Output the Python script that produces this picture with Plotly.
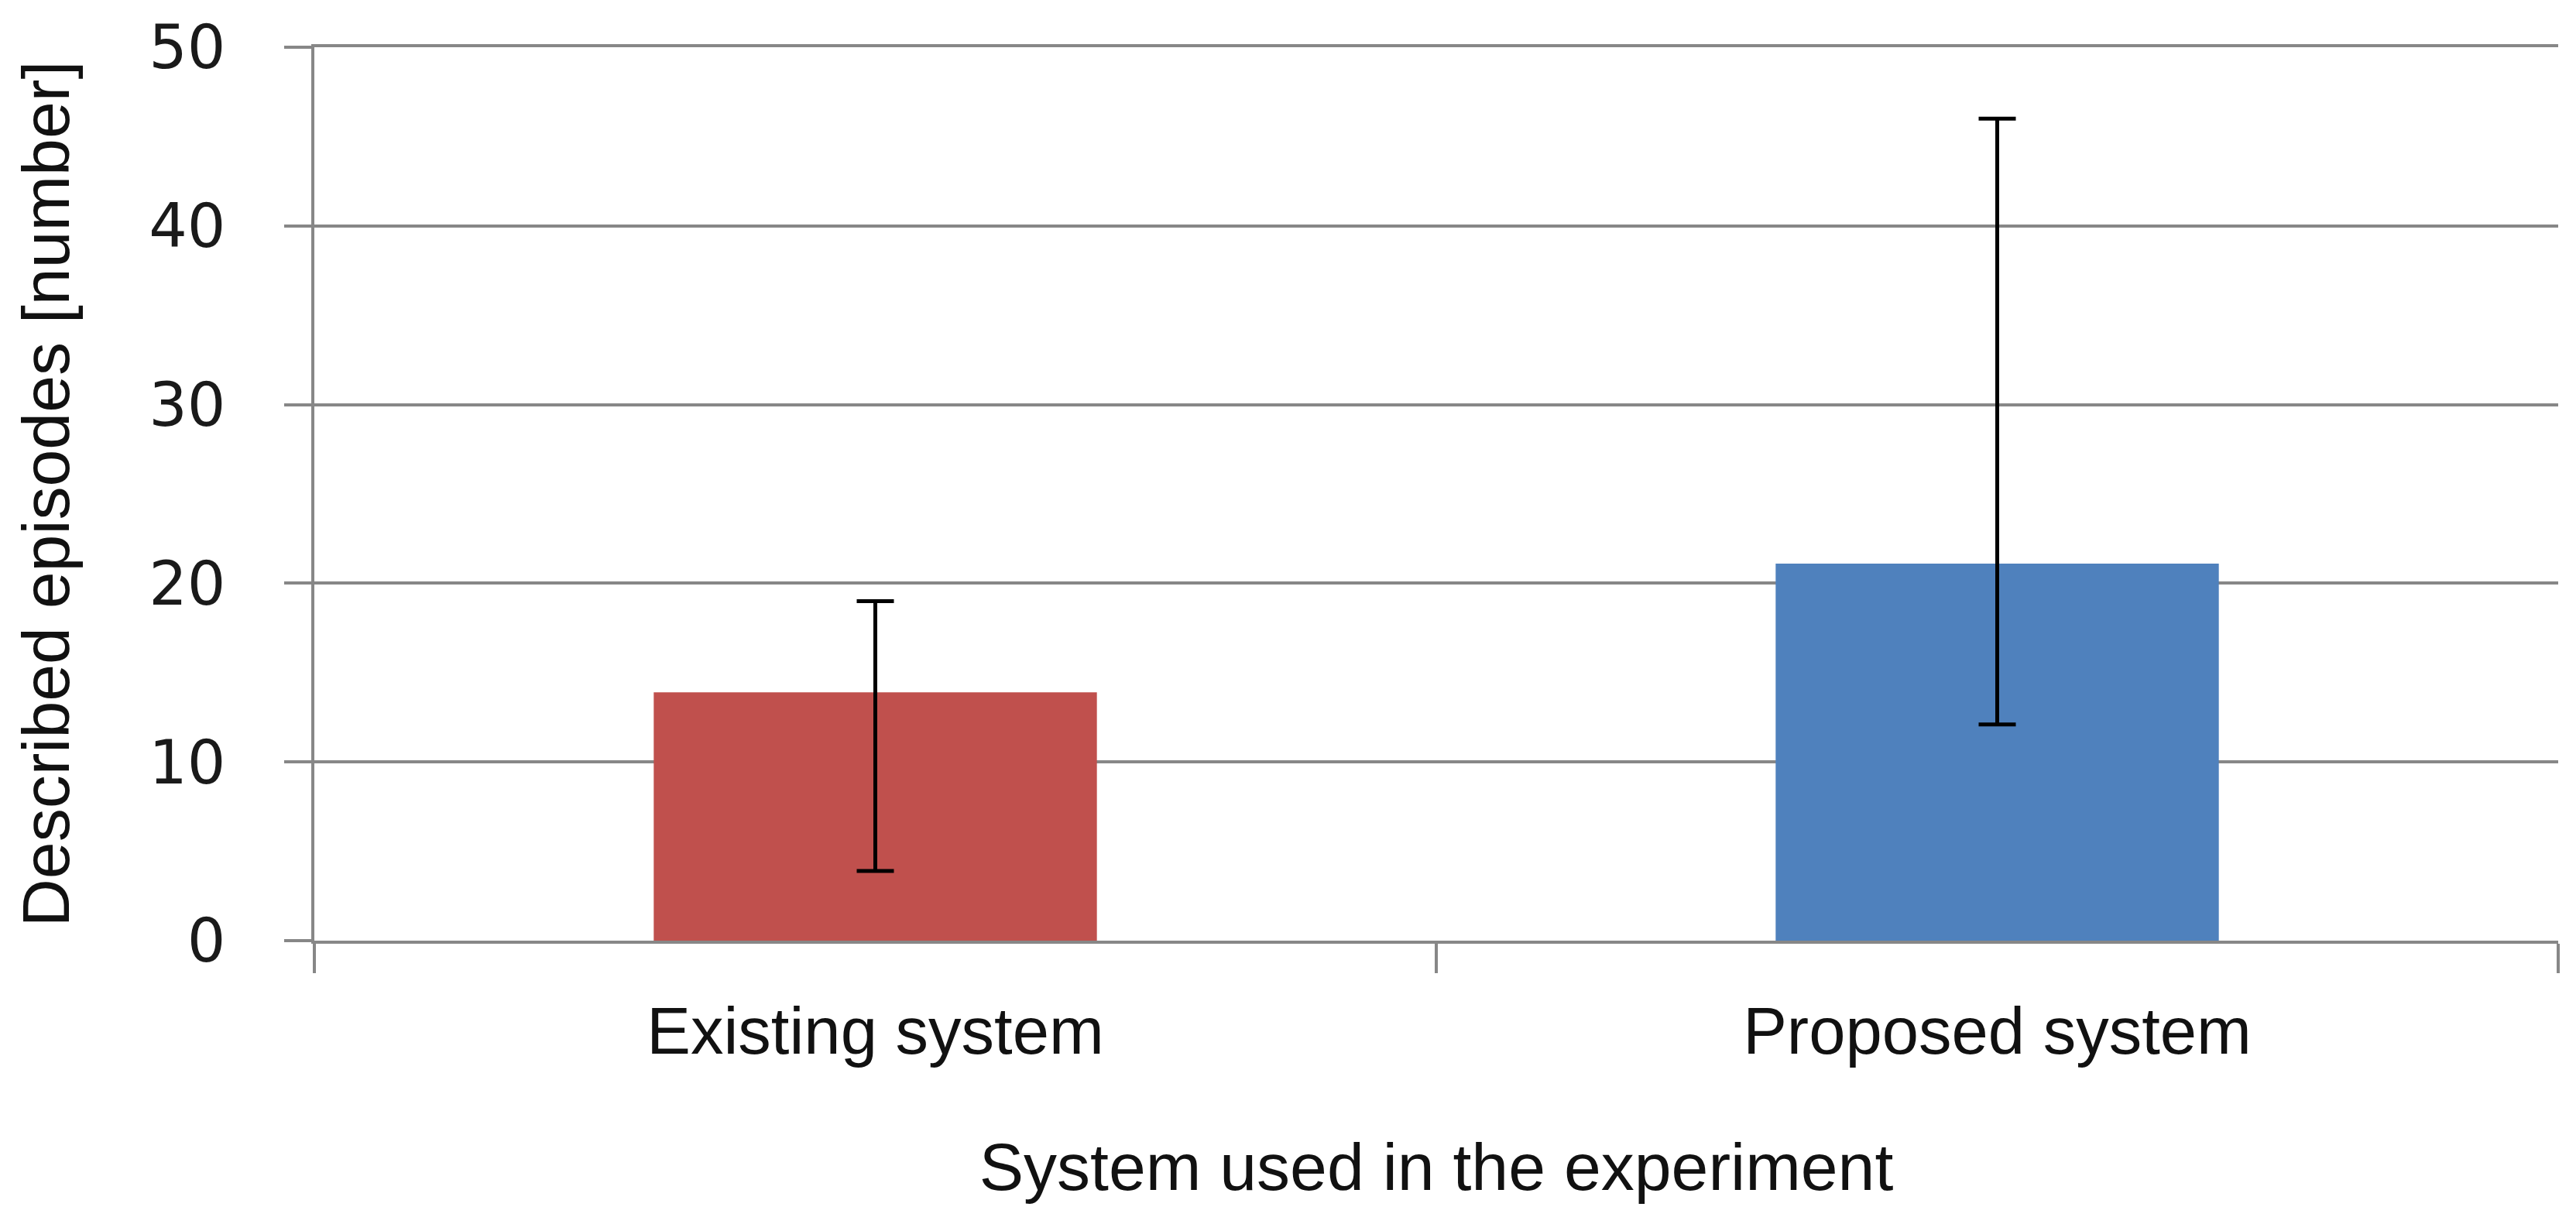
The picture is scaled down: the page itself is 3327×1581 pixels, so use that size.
import plotly.graph_objects as go

categories = ["Existing system", "Proposed system"]
values = [13.9, 21.1]
err_plus = [5.1, 24.9]
err_minus = [10.0, 9.0]
bar_colors = ["#C0504D", "#4F81BD"]
y_ticks = [0, 10, 20, 30, 40, 50]

GRAY = "#878787"

fig = go.Figure()
fig.add_trace(go.Bar(
    x=categories,
    y=values,
    marker=dict(color=bar_colors, line=dict(width=0)),
    error_y=dict(type="data", symmetric=False, array=err_plus, arrayminus=err_minus,
                 color="black", thickness=5, width=24),
    width=0.395,
))

fig.update_layout(
    width=3327, height=1581,
    margin=dict(l=398, r=31, t=53, b=374),
    paper_bgcolor="white", plot_bgcolor="white",
    showlegend=False,
    xaxis=dict(
        automargin=False,
        showline=True, linecolor=GRAY, linewidth=4, mirror=True,
        ticks="outside", ticklen=38, tickwidth=4, tickcolor=GRAY,
        tickson="boundaries",
        tickfont=dict(family="Liberation Sans, Arial", size=85, color="#111111"),
        ticklabelstandoff=40,
        title=dict(text="System used in the experiment",
                   font=dict(family="Liberation Sans, Arial", size=86, color="#111111"),
                   standoff=100),
        showgrid=False,
    ),
    yaxis=dict(
        automargin=False,
        range=[0, 50], tickvals=y_ticks,
        showline=True, linecolor=GRAY, linewidth=4,
        ticks="outside", ticklen=35, tickwidth=4, tickcolor=GRAY,
        showgrid=True, gridcolor=GRAY, gridwidth=4,
        zeroline=False,
        tickfont=dict(family="DejaVu Sans, Verdana", size=78, color="#1a1a1a"),
        ticklabelstandoff=60,
        title=dict(text="Described episodes [number]",
                   font=dict(family="Liberation Sans, Arial", size=86, color="#111111"),
                   standoff=75),
    ),
)

fig.write_html("out.html")
